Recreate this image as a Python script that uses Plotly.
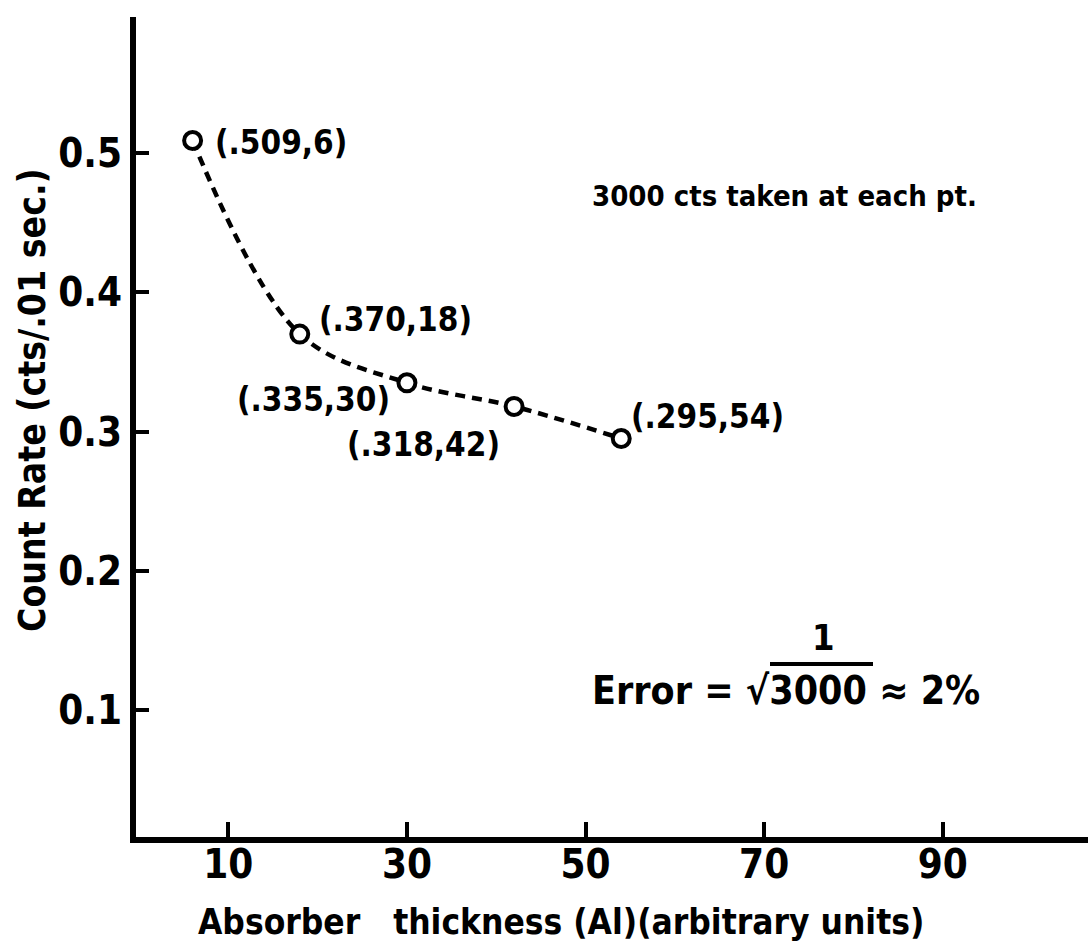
import plotly.graph_objects as go

# Measured count rate against absorber thickness
thickness = [6, 18, 30, 42, 54]
count_rate = [0.509, 0.370, 0.335, 0.318, 0.295]
point_labels = ["(.509,6)", "(.370,18)", "(.335,30)", "(.318,42)", "(.295,54)"]

x_tick_vals = [10, 30, 50, 70, 90]
x_tick_text = ["10", "30", "50", "70", "90"]
y_tick_vals = [0.1, 0.2, 0.3, 0.4, 0.5]
y_tick_text = ["0.1", "0.2", "0.3", "0.4", "0.5"]

FONT = "DejaVu Sans Condensed, sans-serif"
W, H = 1088, 950
L, R, T, B = 136, 0, 17, 113


def px(x):
    """Horizontal pixel position -> paper coordinate."""
    return (x - L) / (W - L - R)


def py(y):
    """Vertical pixel position (from top) -> paper coordinate."""
    return (H - B - y) / (H - T - B)


fig = go.Figure()
fig.add_trace(go.Scatter(
    x=thickness,
    y=count_rate,
    mode="lines+markers",
    line=dict(color="black", width=4.5, dash="10px,7px", shape="spline", smoothing=1.0),
    marker=dict(symbol="circle", size=17, color="white", line=dict(color="black", width=4)),
    hoverinfo="skip",
    showlegend=False,
))

# point labels, placed beside each marker: (anchor, x shift, y shift)
offsets = [("left", 20, -2), ("left", 17, 15), ("right", -15, -17), ("right", -12, -38), ("left", 8, 22)]
for xv, yv, txt, (anchor, dx, dy) in zip(thickness, count_rate, point_labels, offsets):
    fig.add_annotation(
        x=xv, y=yv, xref="x", yref="y", text=txt, showarrow=False,
        xanchor=anchor, yanchor="middle", xshift=dx, yshift=dy,
        font=dict(family=FONT, size=33, color="black", weight="bold"),
    )

notes = [
    dict(x=px(561), y=py(922), text="Absorber\u00a0\u00a0\u00a0thickness (Al)(arbitrary units)",
         xanchor="center", yanchor="middle", size=35),
    dict(x=px(590), y=py(196), text="3000 cts taken at each pt.",
         xanchor="left", yanchor="middle", size=29),
    dict(x=px(590), y=py(690), text="Error = \u221a3000 \u2248 2%",
         xanchor="left", yanchor="middle", size=39),
    dict(x=px(823), y=py(637), text="1",
         xanchor="center", yanchor="middle", size=36),
]
for n in notes:
    fig.add_annotation(
        x=n["x"], y=n["y"], xref="paper", yref="paper", text=n["text"], showarrow=False,
        xanchor=n["xanchor"], yanchor=n["yanchor"],
        font=dict(family=FONT, size=n["size"], color="black", weight="bold"),
    )

# y-axis title
fig.add_annotation(
    x=px(32), y=py(400), xref="paper", yref="paper", text="Count Rate (cts/.01 sec.)",
    showarrow=False, textangle=-90, xanchor="center", yanchor="middle",
    font=dict(family=FONT, size=37, color="black", weight="bold"),
)

# fraction bar over the square root
fig.add_shape(type="line", xref="paper", yref="paper",
              x0=px(770), x1=px(873), y0=py(664), y1=py(664),
              line=dict(color="black", width=4))

axis_common = dict(
    showline=True, linewidth=6, linecolor="black",
    ticks="inside", tickwidth=4, tickcolor="black",
    showgrid=False, zeroline=False,
    tickfont=dict(family=FONT, size=40, color="black", weight="bold"),
    mirror=False,
)

fig.update_layout(
    width=W, height=H,
    margin=dict(l=L, r=R, t=T, b=B),
    paper_bgcolor="white", plot_bgcolor="white",
    xaxis=dict(range=[-0.34, 106.27], tickvals=x_tick_vals, ticktext=x_tick_text,
               ticklen=15, ticklabelstandoff=-13, **axis_common),
    yaxis=dict(range=[0.0088, 0.5977], tickvals=y_tick_vals, ticktext=y_tick_text,
               ticklen=13, **axis_common),
)

fig.write_html("out.html")
